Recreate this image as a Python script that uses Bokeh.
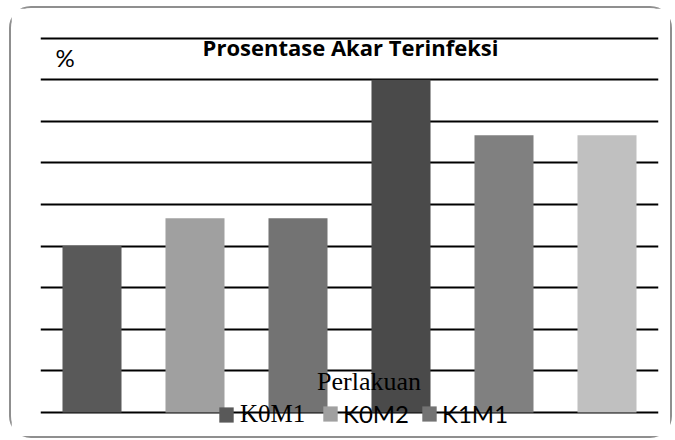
from bokeh.plotting import figure
from bokeh.models import ColumnDataSource, Grid, FixedTicker, Label, Legend, LegendItem, Range1d
from bokeh.embed import file_html
from bokeh.resources import INLINE

# data
treatments = ["K0M1", "K0M2", "K1M1", "K1M2", "K2M1", "K2M2"]
values = [40.0, 46.67, 46.67, 80.0, 66.67, 66.67]
colors = ["#595959", "#a0a0a0", "#737373", "#4a4a4a", "#808080", "#c0c0c0"]
grid_ticks = [0, 10, 20, 30, 40, 50, 60, 70, 80, 90]
title_text = "Prosentase Akar Terinfeksi"
y_label = "%"
x_label = "Perlakuan"

W, H = 663, 432
p = figure(width=W, height=H, output_backend="svg", toolbar_location=None,
           x_axis_type=None, y_axis_type=None,
           x_range=Range1d(0, 6), y_range=Range1d(-5.05, 94.23),
           min_border_left=29, min_border_right=16, min_border_top=12, min_border_bottom=7)
p.outline_line_color = None
p.background_fill_color = "white"
p.border_fill_color = "white"
p.styles = {"border": "2px solid #8f8f8f", "border-radius": "22px",
            "box-sizing": "border-box", "margin": "6px 0 0 9px"}

p.add_layout(Grid(dimension=1, ticker=FixedTicker(ticks=grid_ticks),
                  grid_line_color="#000000", grid_line_width=2))

renderers = []
for i, (t, v, c) in enumerate(zip(treatments, values, colors)):
    src = ColumnDataSource(dict(x=[i + 0.5], top=[v]))
    r = p.vbar(x="x", top="top", bottom=0, width=0.573, source=src,
               fill_color=c, line_color=None)
    renderers.append(r)

p.add_layout(Label(x=3.01, y=87.9, text=title_text, text_align="center",
                   text_baseline="alphabetic", text_font="Open Sans", text_font_style="bold",
                   text_font_size="22px", text_color="#000000"))
p.add_layout(Label(x=0.146, y=85.4, text=y_label, text_align="left",
                   text_baseline="alphabetic", text_font="Lato",
                   text_font_size="24px", text_color="#000000"))
p.add_layout(Label(x=3.19, y=7.45, text=x_label, text_align="center",
                   text_baseline="alphabetic", text_font="Liberation Serif",
                   text_font_size="26px", text_color="#000000"))

leg1 = Legend(items=[LegendItem(label=treatments[0], renderers=[renderers[0]])],
              location=(177, 5), orientation="horizontal",
              label_text_font="Liberation Serif", label_text_font_size="25px",
              label_text_color="#000000",
              glyph_width=18, glyph_height=19, label_standoff=5, padding=0, margin=0,
              background_fill_alpha=0, border_line_color=None)
leg2 = Legend(items=[LegendItem(label=treatments[1], renderers=[renderers[1]]),
                     LegendItem(label=treatments[2], renderers=[renderers[2]])],
              location=(281, 5), orientation="horizontal",
              label_text_font="Lato", label_text_font_size="24px",
              label_text_color="#000000",
              glyph_width=18, glyph_height=19, label_standoff=4, spacing=11, padding=0, margin=0,
              background_fill_alpha=0, border_line_color=None)
p.add_layout(leg1)
p.add_layout(leg2)

open("out.html", "w").write(file_html(p, INLINE))
